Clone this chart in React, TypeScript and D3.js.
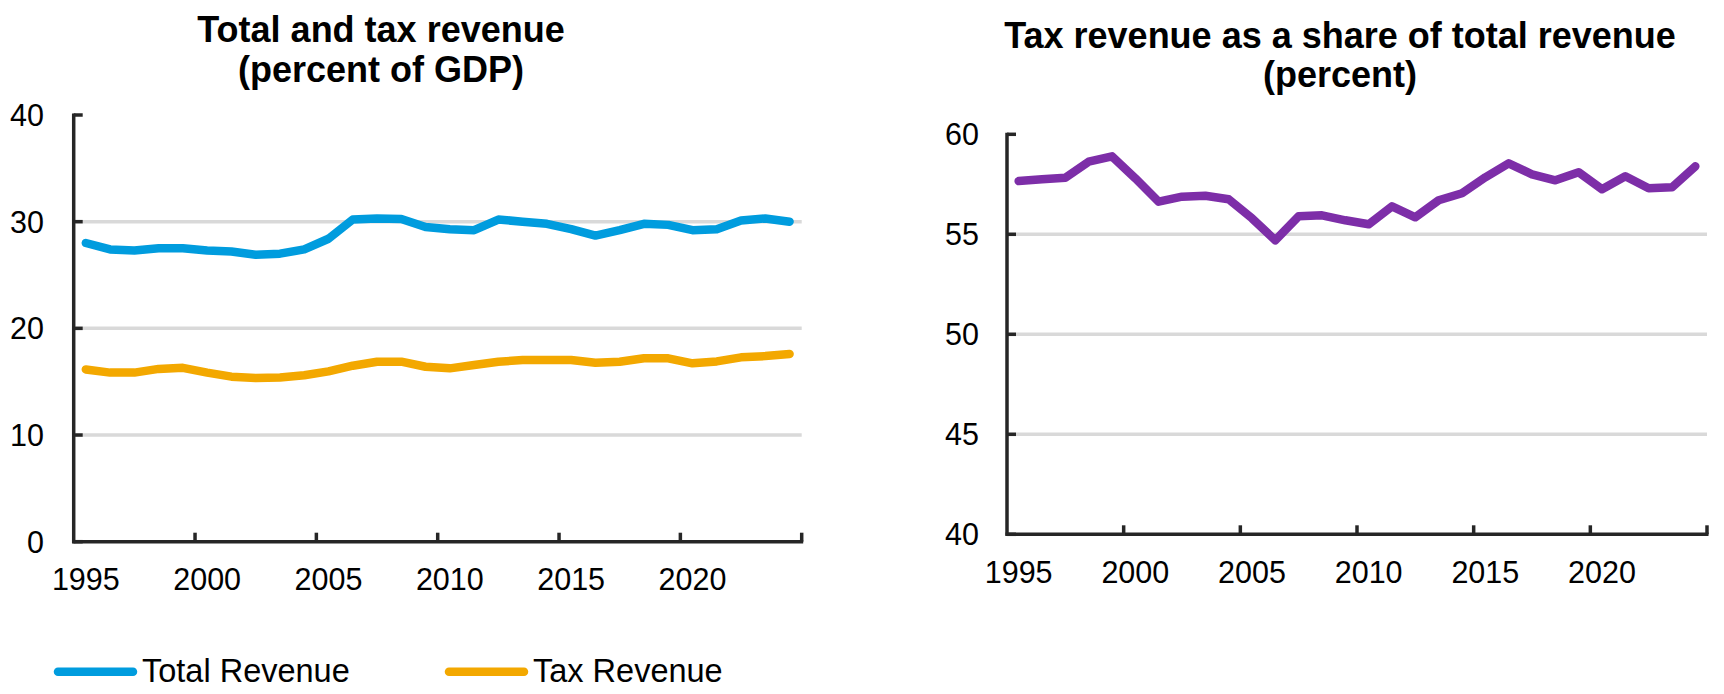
import React from "react";
import * as d3 from "d3";

const years = d3.range(1995, 2025);
const totalRevenue = [28.0, 27.4, 27.3, 27.5, 27.5, 27.3, 27.2, 26.9, 27.0, 27.4, 28.4, 30.2, 30.3, 30.25, 29.5, 29.3, 29.2, 30.2, 30.0, 29.8, 29.3, 28.7, 29.2, 29.8, 29.7, 29.2, 29.3, 30.1, 30.3, 30.0];
const taxRevenue = [16.15, 15.85, 15.85, 16.2, 16.3, 15.85, 15.47, 15.34, 15.4, 15.6, 15.97, 16.5, 16.87, 16.88, 16.4, 16.25, 16.56, 16.87, 17.03, 17.03, 17.03, 16.78, 16.87, 17.19, 17.19, 16.72, 16.9, 17.28, 17.4, 17.6];
const taxShare = [57.66, 57.75, 57.83, 58.63, 58.9, 57.8, 56.63, 56.88, 56.93, 56.75, 55.8, 54.7, 55.9, 55.95, 55.7, 55.5, 56.4, 55.85, 56.7, 57.05, 57.85, 58.55, 58.0, 57.7, 58.1, 57.25, 57.9, 57.3, 57.35, 58.4];
const leftTicks = [0, 10, 20, 30, 40];
const rightTicks = [40, 45, 50, 55, 60];
const labelYears = [1995, 2000, 2005, 2010, 2015, 2020];
const tickYears = [2000, 2005, 2010, 2015, 2020];

const FONT = "'Liberation Sans', Arial, sans-serif";
const AXIS = "#262626";
const GRID = "#d9d9d9";

type Series = { values: number[]; color: string };

function Panel(props: {
  x0: number; x1: number; yTop: number; yBot: number;
  domain: [number, number]; ticks: number[]; series: Series[];
  labelRight: number; labelBaseline: number;
  title: string[]; titleX: number; titleBaselines: number[];
}) {
  const { x0, x1, yTop, yBot, domain, ticks, series } = props;
  const x = d3.scaleBand<number>().domain(years).range([x0, x1]).padding(0);
  const y = d3.scaleLinear().domain(domain).range([yBot, yTop]);
  const bw = x.bandwidth();
  const cx = (yr: number) => (x(yr) as number) + bw / 2;
  const line = d3.line<number>().x((_, i) => cx(years[i])).y((v) => y(v));
  return (
    <g>
      {props.title.map((t, i) => (
        <text key={t} x={props.titleX} y={props.titleBaselines[i]} textAnchor="middle"
          fontFamily={FONT} fontWeight="bold" fontSize={36} fill="#000">{t}</text>
      ))}
      {ticks.slice(1, -1).map((t) => (
        <line key={"g" + t} x1={x0 + 2} x2={x1} y1={y(t)} y2={y(t)} stroke={GRID} strokeWidth={3.5} />
      ))}
      {series.map((s, i) => (
        <path key={i} d={line(s.values) || ""} fill="none" stroke={s.color} strokeWidth={8.5}
          strokeLinecap="round" strokeLinejoin="round" />
      ))}
      <line x1={x0} x2={x0} y1={y(domain[1]) - 1.5} y2={yBot + 1.5} stroke={AXIS} strokeWidth={3.5} />
      <line x1={x0 - 1.5} x2={x1 + 1.5} y1={yBot} y2={yBot} stroke={AXIS} strokeWidth={3.5} />
      {ticks.map((t) => (
        <g key={"t" + t}>
          <line x1={x0} x2={x0 + 9} y1={y(t)} y2={y(t)} stroke={AXIS} strokeWidth={3.5} />
          <text x={props.labelRight} y={y(t)} dy="0.36em" textAnchor="end" fontFamily={FONT} fontSize={30.5} fill="#000">{t}</text>
        </g>
      ))}
      {tickYears.map((yr) => (
        <line key={"xt" + yr} x1={x(yr) as number} x2={x(yr) as number} y1={yBot} y2={yBot - 9} stroke={AXIS} strokeWidth={3.5} />
      ))}
      <line x1={x1} x2={x1} y1={yBot} y2={yBot - 9} stroke={AXIS} strokeWidth={3.5} />
      {labelYears.map((yr) => (
        <text key={"xl" + yr} x={cx(yr)} y={props.labelBaseline} textAnchor="middle" fontFamily={FONT} fontSize={30.5} fill="#000">{yr}</text>
      ))}
    </g>
  );
}

export default function App() {
  const legend = [
    { label: "Total Revenue", color: "#009CDE", x: 58 },
    { label: "Tax Revenue", color: "#F3A800", x: 449 },
  ];
  return (
    <svg width={1724} height={694} style={{ position: "absolute", left: 0, top: 0, background: "#fff" }}>
      <rect width={1724} height={694} fill="#fff" />
      <Panel x0={73.7} x1={801.7} yTop={115} yBot={541.7} domain={[0, 40]} ticks={leftTicks}
        series={[{ values: totalRevenue, color: "#009CDE" }, { values: taxRevenue, color: "#F3A800" }]}
        labelRight={44} labelBaseline={590}
        title={["Total and tax revenue", "(percent of GDP)"]} titleX={381} titleBaselines={[42, 82]} />
      <Panel x0={1007} x1={1707} yTop={134.3} yBot={534.3} domain={[40, 60]} ticks={rightTicks}
        series={[{ values: taxShare, color: "#7D2EA8" }]}
        labelRight={979} labelBaseline={583}
        title={["Tax revenue as a share of total revenue", "(percent)"]} titleX={1340} titleBaselines={[48, 87]} />
      {legend.map((l) => (
        <g key={l.label}>
          <line x1={l.x} x2={l.x + 75} y1={671.7} y2={671.7} stroke={l.color} strokeWidth={8.5} strokeLinecap="round" />
          <text x={l.x + 84} y={682} fontFamily={FONT} fontSize={32.5} fill="#000">{l.label}</text>
        </g>
      ))}
    </svg>
  );
}
